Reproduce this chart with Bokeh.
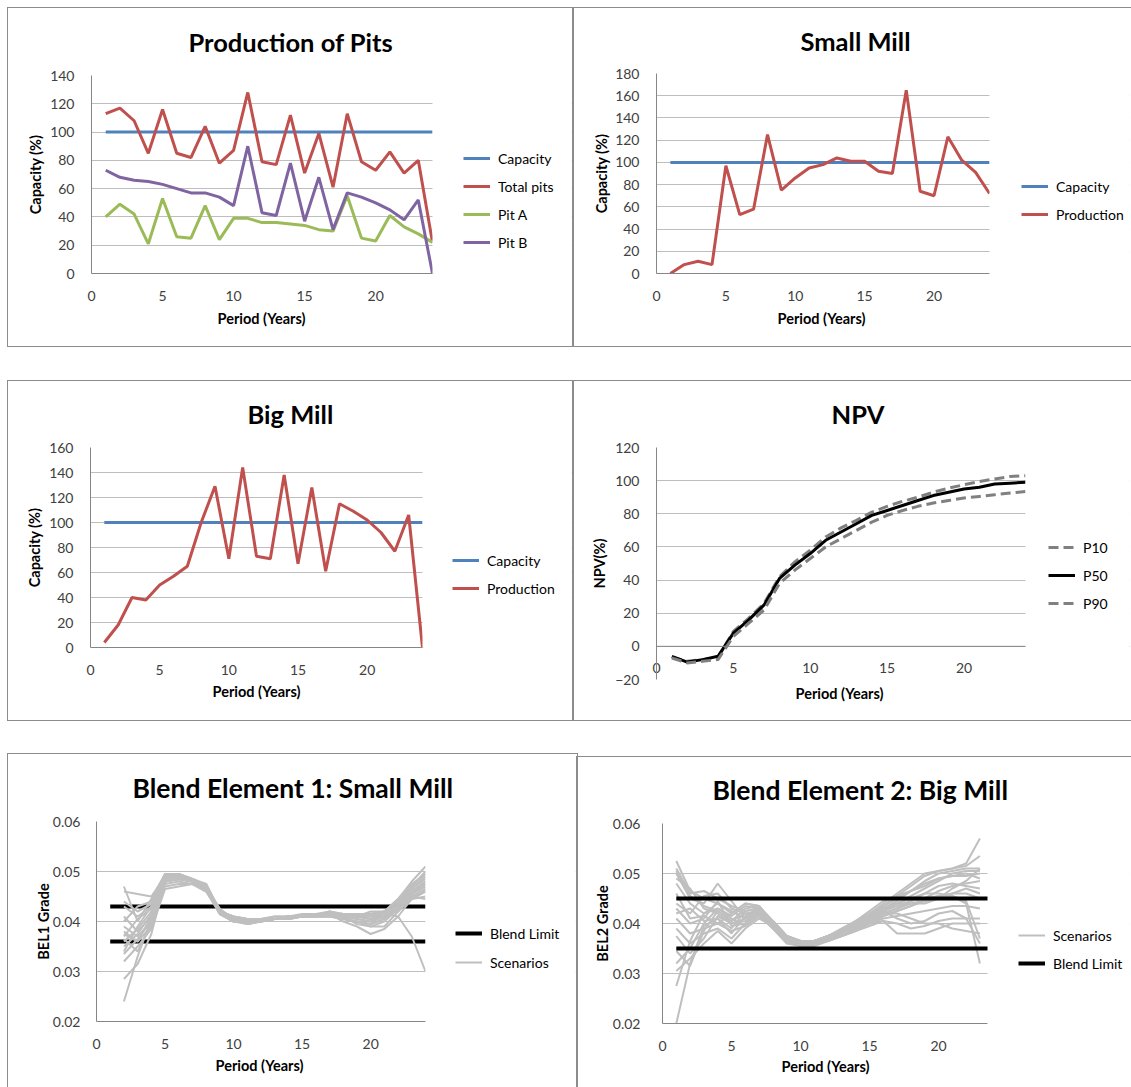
from bokeh.plotting import figure
from bokeh.layouts import row, column
from bokeh.models import (Range1d, FixedTicker, Legend, LegendItem, Spacer, Span, Title,
                          BoxAnnotation, PrintfTickFormatter)
from bokeh.embed import file_html
from bokeh.resources import INLINE

FONT = "Lato"

# ---------------- data ----------------
periods = [1, 2, 3, 4, 5, 6, 7, 8, 9, 10, 11, 12, 13, 14, 15, 16, 17, 18, 19, 20, 21, 22, 23, 24]
x_ticks = [0, 5, 10, 15, 20]

capacity = [100, 100, 100, 100, 100, 100, 100, 100, 100, 100, 100, 100,
            100, 100, 100, 100, 100, 100, 100, 100, 100, 100, 100, 100]

total_pits = [113, 117, 108, 85, 116, 85, 82, 104, 78, 87, 128, 79,
              77, 112, 71, 99, 61, 113, 79, 73, 86, 71, 80, 22]
pit_a = [40, 49, 42, 21, 53, 26, 25, 48, 24, 39, 39, 36,
         36, 35, 34, 31, 30, 55, 25, 23, 41, 33, 28, 22]
pit_b = [73, 68, 66, 65, 63, 60, 57, 57, 54, 48, 90, 43,
         41, 78, 37, 68, 31, 57, 54, 50, 45, 38, 52, 0]

small_mill = [0, 8, 11, 8, 97, 53, 58, 125, 75, 86, 95, 98,
              104, 101, 101, 92, 90, 165, 74, 70, 123, 102, 91, 72]
big_mill = [4, 18, 40, 38, 50, 57, 65, 100, 129, 71, 144, 73,
            71, 138, 67, 128, 61, 115, 109, 102, 92, 77, 106, 0]

npv_p10 = [-6.5, -9, -8, -6.5, 9, 17, 26, 42, 51, 58, 66, 71.5,
           76, 81, 84.5, 87.5, 90, 93, 95.5, 97.5, 99.5, 101, 102.5, 103]
npv_p50 = [-6, -9.5, -8, -6, 8, 16, 25, 41, 49, 56, 64, 69,
           74, 79, 82, 85, 88, 91, 93, 95, 96, 98, 98.5, 99]
npv_p90 = [-7, -10, -9, -8, 6, 14, 22, 38, 46, 53, 60, 65,
           70, 75, 79, 82, 84.5, 86.5, 88, 89.5, 90.5, 91.5, 92.5, 93.5]

bel1_periods = [2, 3, 4, 5, 6, 7, 8, 9, 10, 11, 12, 13, 14, 15, 16, 17, 18, 19, 20, 21, 22, 23, 24]
bel1_limit_x = [1, 24]
bel1_upper = [0.043, 0.043]
bel1_lower = [0.036, 0.036]
bel1_scenarios = [
    [0.0470, 0.0400, 0.0445, 0.0495, 0.0490, 0.0485, 0.0470, 0.0420, 0.0405, 0.0400, 0.0405, 0.0405, 0.0410, 0.0410, 0.0415, 0.0415, 0.0410, 0.0415, 0.0415, 0.0420, 0.0440, 0.0470, 0.0495],
    [0.0460, 0.0455, 0.0450, 0.0490, 0.0495, 0.0480, 0.0475, 0.0420, 0.0410, 0.0405, 0.0405, 0.0410, 0.0410, 0.0410, 0.0410, 0.0420, 0.0415, 0.0410, 0.0420, 0.0420, 0.0445, 0.0480, 0.0510],
    [0.0440, 0.0420, 0.0435, 0.0485, 0.0490, 0.0485, 0.0470, 0.0425, 0.0405, 0.0395, 0.0400, 0.0405, 0.0405, 0.0410, 0.0410, 0.0410, 0.0405, 0.0400, 0.0395, 0.0405, 0.0430, 0.0465, 0.0490],
    [0.0410, 0.0380, 0.0410, 0.0480, 0.0485, 0.0480, 0.0465, 0.0420, 0.0400, 0.0400, 0.0405, 0.0405, 0.0410, 0.0410, 0.0410, 0.0415, 0.0410, 0.0405, 0.0400, 0.0410, 0.0430, 0.0460, 0.0480],
    [0.0390, 0.0370, 0.0400, 0.0475, 0.0480, 0.0475, 0.0465, 0.0415, 0.0405, 0.0400, 0.0405, 0.0410, 0.0410, 0.0410, 0.0415, 0.0415, 0.0400, 0.0390, 0.0375, 0.0385, 0.0410, 0.0445, 0.0465],
    [0.0380, 0.0360, 0.0390, 0.0480, 0.0485, 0.0480, 0.0470, 0.0420, 0.0400, 0.0400, 0.0405, 0.0405, 0.0410, 0.0410, 0.0410, 0.0420, 0.0410, 0.0410, 0.0415, 0.0415, 0.0410, 0.0370, 0.0300],
    [0.0360, 0.0385, 0.0420, 0.0490, 0.0490, 0.0480, 0.0465, 0.0420, 0.0410, 0.0405, 0.0400, 0.0405, 0.0405, 0.0410, 0.0410, 0.0415, 0.0415, 0.0410, 0.0410, 0.0415, 0.0435, 0.0460, 0.0475],
    [0.0350, 0.0375, 0.0415, 0.0485, 0.0495, 0.0485, 0.0470, 0.0420, 0.0405, 0.0400, 0.0405, 0.0405, 0.0410, 0.0410, 0.0415, 0.0415, 0.0410, 0.0415, 0.0410, 0.0420, 0.0440, 0.0465, 0.0485],
    [0.0340, 0.0390, 0.0430, 0.0495, 0.0490, 0.0480, 0.0470, 0.0425, 0.0405, 0.0405, 0.0405, 0.0405, 0.0410, 0.0410, 0.0410, 0.0415, 0.0410, 0.0410, 0.0405, 0.0415, 0.0435, 0.0455, 0.0470],
    [0.0335, 0.0365, 0.0400, 0.0470, 0.0475, 0.0475, 0.0460, 0.0415, 0.0400, 0.0400, 0.0405, 0.0405, 0.0405, 0.0410, 0.0410, 0.0410, 0.0405, 0.0400, 0.0390, 0.0400, 0.0425, 0.0445, 0.0450],
    [0.0320, 0.0350, 0.0385, 0.0465, 0.0470, 0.0475, 0.0460, 0.0420, 0.0405, 0.0400, 0.0400, 0.0405, 0.0410, 0.0410, 0.0410, 0.0410, 0.0410, 0.0410, 0.0415, 0.0415, 0.0420, 0.0445, 0.0460],
    [0.0285, 0.0315, 0.0375, 0.0480, 0.0485, 0.0480, 0.0465, 0.0415, 0.0400, 0.0395, 0.0400, 0.0405, 0.0410, 0.0410, 0.0410, 0.0415, 0.0410, 0.0405, 0.0400, 0.0410, 0.0425, 0.0450, 0.0460],
    [0.0240, 0.0330, 0.0405, 0.0485, 0.0490, 0.0480, 0.0470, 0.0420, 0.0400, 0.0400, 0.0405, 0.0405, 0.0410, 0.0415, 0.0415, 0.0415, 0.0410, 0.0410, 0.0405, 0.0410, 0.0435, 0.0470, 0.0500],
    [0.0370, 0.0405, 0.0425, 0.0490, 0.0495, 0.0485, 0.0475, 0.0420, 0.0410, 0.0405, 0.0405, 0.0405, 0.0410, 0.0410, 0.0415, 0.0415, 0.0410, 0.0415, 0.0415, 0.0420, 0.0445, 0.0475, 0.0495],
    [0.0400, 0.0430, 0.0440, 0.0495, 0.0495, 0.0485, 0.0470, 0.0420, 0.0405, 0.0400, 0.0405, 0.0405, 0.0410, 0.0410, 0.0410, 0.0415, 0.0405, 0.0400, 0.0395, 0.0405, 0.0425, 0.0450, 0.0445],
    [0.0375, 0.0360, 0.0410, 0.0480, 0.0485, 0.0480, 0.0465, 0.0420, 0.0405, 0.0395, 0.0400, 0.0405, 0.0405, 0.0410, 0.0410, 0.0410, 0.0410, 0.0410, 0.0405, 0.0410, 0.0430, 0.0455, 0.0475],
    [0.0430, 0.0410, 0.0430, 0.0485, 0.0490, 0.0485, 0.0470, 0.0420, 0.0405, 0.0400, 0.0405, 0.0405, 0.0410, 0.0410, 0.0415, 0.0420, 0.0415, 0.0415, 0.0415, 0.0420, 0.0440, 0.0460, 0.0480],
    [0.0365, 0.0340, 0.0395, 0.0480, 0.0485, 0.0480, 0.0470, 0.0415, 0.0400, 0.0400, 0.0405, 0.0405, 0.0410, 0.0410, 0.0410, 0.0415, 0.0410, 0.0395, 0.0390, 0.0390, 0.0420, 0.0450, 0.0465],
]

bel2_periods = [1, 2, 3, 4, 5, 6, 7, 8, 9, 10, 11, 12, 13, 14, 15, 16, 17, 18, 19, 20, 21, 22, 23]
bel2_limit_x = [1, 24]
bel2_upper = [0.045, 0.045]
bel2_lower = [0.035, 0.035]
bel2_scenarios = [
    [0.0525, 0.0465, 0.0450, 0.0440, 0.0420, 0.0440, 0.0435, 0.0405, 0.0375, 0.0365, 0.0365, 0.0375, 0.0385, 0.0400, 0.0420, 0.0440, 0.0460, 0.0480, 0.0500, 0.0505, 0.0510, 0.0520, 0.0570],
    [0.0510, 0.0460, 0.0465, 0.0450, 0.0435, 0.0425, 0.0430, 0.0400, 0.0370, 0.0360, 0.0365, 0.0370, 0.0380, 0.0395, 0.0415, 0.0435, 0.0455, 0.0475, 0.0495, 0.0505, 0.0510, 0.0515, 0.0535],
    [0.0500, 0.0450, 0.0440, 0.0480, 0.0445, 0.0410, 0.0425, 0.0400, 0.0375, 0.0365, 0.0360, 0.0370, 0.0385, 0.0400, 0.0415, 0.0430, 0.0445, 0.0465, 0.0485, 0.0500, 0.0505, 0.0510, 0.0510],
    [0.0490, 0.0470, 0.0430, 0.0420, 0.0400, 0.0405, 0.0420, 0.0395, 0.0370, 0.0360, 0.0360, 0.0370, 0.0380, 0.0395, 0.0410, 0.0425, 0.0440, 0.0455, 0.0470, 0.0485, 0.0500, 0.0505, 0.0505],
    [0.0480, 0.0440, 0.0420, 0.0430, 0.0415, 0.0435, 0.0430, 0.0400, 0.0370, 0.0355, 0.0360, 0.0375, 0.0385, 0.0405, 0.0425, 0.0445, 0.0455, 0.0465, 0.0475, 0.0490, 0.0495, 0.0500, 0.0490],
    [0.0440, 0.0420, 0.0455, 0.0460, 0.0430, 0.0420, 0.0425, 0.0390, 0.0365, 0.0360, 0.0365, 0.0370, 0.0380, 0.0390, 0.0405, 0.0420, 0.0430, 0.0445, 0.0460, 0.0475, 0.0480, 0.0475, 0.0470],
    [0.0430, 0.0400, 0.0410, 0.0445, 0.0395, 0.0400, 0.0420, 0.0405, 0.0375, 0.0360, 0.0365, 0.0375, 0.0385, 0.0395, 0.0405, 0.0415, 0.0425, 0.0435, 0.0445, 0.0455, 0.0460, 0.0460, 0.0450],
    [0.0420, 0.0430, 0.0405, 0.0410, 0.0380, 0.0415, 0.0430, 0.0400, 0.0370, 0.0365, 0.0360, 0.0365, 0.0375, 0.0390, 0.0400, 0.0410, 0.0415, 0.0420, 0.0425, 0.0430, 0.0435, 0.0435, 0.0430],
    [0.0410, 0.0380, 0.0390, 0.0400, 0.0420, 0.0440, 0.0435, 0.0395, 0.0365, 0.0355, 0.0355, 0.0365, 0.0375, 0.0385, 0.0395, 0.0405, 0.0400, 0.0390, 0.0395, 0.0405, 0.0410, 0.0410, 0.0410],
    [0.0390, 0.0360, 0.0380, 0.0390, 0.0370, 0.0400, 0.0420, 0.0400, 0.0370, 0.0360, 0.0365, 0.0370, 0.0380, 0.0390, 0.0400, 0.0405, 0.0380, 0.0380, 0.0380, 0.0390, 0.0400, 0.0400, 0.0400],
    [0.0375, 0.0340, 0.0370, 0.0415, 0.0400, 0.0410, 0.0425, 0.0405, 0.0375, 0.0365, 0.0360, 0.0370, 0.0380, 0.0395, 0.0410, 0.0420, 0.0420, 0.0410, 0.0400, 0.0400, 0.0390, 0.0385, 0.0380],
    [0.0345, 0.0315, 0.0385, 0.0425, 0.0405, 0.0430, 0.0435, 0.0400, 0.0370, 0.0360, 0.0360, 0.0375, 0.0385, 0.0400, 0.0415, 0.0430, 0.0440, 0.0450, 0.0460, 0.0460, 0.0455, 0.0445, 0.0370],
    [0.0320, 0.0350, 0.0400, 0.0430, 0.0410, 0.0395, 0.0415, 0.0390, 0.0365, 0.0355, 0.0360, 0.0370, 0.0380, 0.0395, 0.0410, 0.0425, 0.0435, 0.0445, 0.0450, 0.0455, 0.0455, 0.0440, 0.0320],
    [0.0305, 0.0330, 0.0360, 0.0385, 0.0360, 0.0390, 0.0410, 0.0395, 0.0370, 0.0360, 0.0365, 0.0375, 0.0390, 0.0405, 0.0420, 0.0435, 0.0450, 0.0465, 0.0480, 0.0490, 0.0495, 0.0495, 0.0500],
    [0.0275, 0.0365, 0.0420, 0.0440, 0.0425, 0.0410, 0.0425, 0.0405, 0.0375, 0.0365, 0.0365, 0.0370, 0.0380, 0.0395, 0.0410, 0.0420, 0.0430, 0.0440, 0.0445, 0.0450, 0.0470, 0.0485, 0.0510],
    [0.0200, 0.0320, 0.0395, 0.0410, 0.0390, 0.0425, 0.0430, 0.0400, 0.0365, 0.0355, 0.0365, 0.0375, 0.0385, 0.0400, 0.0415, 0.0430, 0.0440, 0.0440, 0.0440, 0.0450, 0.0460, 0.0470, 0.0460],
    [0.0505, 0.0455, 0.0435, 0.0425, 0.0405, 0.0420, 0.0420, 0.0390, 0.0360, 0.0355, 0.0360, 0.0370, 0.0375, 0.0385, 0.0400, 0.0415, 0.0425, 0.0435, 0.0450, 0.0465, 0.0475, 0.0480, 0.0485],
    [0.0460, 0.0410, 0.0415, 0.0400, 0.0385, 0.0395, 0.0415, 0.0395, 0.0370, 0.0365, 0.0365, 0.0375, 0.0385, 0.0400, 0.0415, 0.0425, 0.0410, 0.0400, 0.0405, 0.0420, 0.0425, 0.0410, 0.0360],
]

# ---------------- style ----------------
BLUE = "#4F81BD"
RED = "#C0504D"
GREEN = "#9BBB59"
PURPLE = "#8064A2"
GRID = "#BEBEBE"
AXIS = "#868686"
SCEN = "#BFBFBF"
BORDER = "#8C8C8C"
FULL_BOX = ("-1px -1px 0 0 %s, 1px -1px 0 0 %s, -1px 1px 0 0 %s, 1px 1px 0 0 %s"
            % (BORDER, BORDER, BORDER, BORDER))
TICK_FS = "14px"
AXT_FS = "14.5px"


def make_panel(w, h, left, top, bottom, plot_w, xmax, yrange, yticks, ylabel,
               tick_standoff=11, label_standoff=3, yfmt=None):
    """Frame spans the plot area plus the legend area; the plot area is [0, xmax]."""
    frame_w = w - left - 2
    x_end = xmax * frame_w / plot_w
    p = figure(width=w, height=h, x_range=Range1d(0, x_end), y_range=Range1d(*yrange),
               output_backend="svg", toolbar_location=None,
               min_border_left=left, min_border_right=2,
               min_border_top=top, min_border_bottom=bottom,
               border_fill_color=None, background_fill_color="white",
               outline_line_color=None)
    p.styles = {"box-shadow": FULL_BOX}
    p.xaxis.ticker = FixedTicker(ticks=x_ticks)
    p.xaxis.bounds = (0, xmax)
    p.yaxis.ticker = FixedTicker(ticks=yticks)
    if yfmt is not None:
        p.yaxis.formatter = yfmt
    for ax in p.xaxis + p.yaxis:
        ax.axis_line_color = AXIS
        ax.axis_line_width = 1
        ax.major_tick_line_color = None
        ax.minor_tick_line_color = None
        ax.major_label_text_font = FONT
        ax.major_label_text_font_size = TICK_FS
        ax.major_label_text_color = "#404040"
        ax.axis_label_text_font = FONT
        ax.axis_label_text_font_style = "bold"
        ax.axis_label_text_font_size = AXT_FS
        ax.axis_label_text_color = "#000000"
    p.xaxis.major_label_standoff = 11
    p.yaxis.major_label_standoff = tick_standoff
    p.yaxis.axis_label = ylabel
    p.yaxis.axis_label_standoff = label_standoff
    p.xgrid.visible = False
    p.ygrid.grid_line_color = GRID
    p.ygrid.grid_line_width = 1
    return p


def mask_outside(p, xmax):
    # white mask right of the plot area (the legend area of the chart)
    p.add_layout(BoxAnnotation(left=xmax, fill_color="white", fill_alpha=1.0,
                               line_alpha=0))


def add_title(p, text, offset, size="25.5px", standoff=34):
    p.add_layout(Title(text=text, align="left", offset=offset, vertical_align="top",
                       standoff=standoff, text_font=FONT, text_font_style="bold",
                       text_font_size=size, text_color="#000000"), "above")


def add_xtitle(p, offset, standoff=12, text="Period (Years)"):
    p.add_layout(Title(text=text, align="left", offset=offset, vertical_align="top",
                       standoff=standoff, text_font=FONT, text_font_style="bold",
                       text_font_size=AXT_FS, text_color="#000000"), "below")


def add_legend(p, items, x, y, spacing=8):
    lg = Legend(items=items, location=(x, y), glyph_width=27, glyph_height=20,
                label_standoff=8, spacing=spacing, padding=0, margin=0,
                border_line_color=None, background_fill_alpha=0,
                label_text_font=FONT, label_text_font_size="14px",
                label_text_color="#000000", label_height=20)
    p.add_layout(lg)


# ---------------- panel 1: Production of Pits ----------------
p1 = make_panel(565, 338, 83, 67, 73, 341, 24, (0, 140),
                [0, 20, 40, 60, 80, 100, 120, 140], "Capacity (%)")
r_cap = p1.line(periods, capacity, line_color=BLUE, line_width=3)
r_tot = p1.line(periods, total_pits, line_color=RED, line_width=3)
r_a = p1.line(periods, pit_a, line_color=GREEN, line_width=3)
r_b = p1.line(periods, pit_b, line_color=PURPLE, line_width=3)
mask_outside(p1, 24)
add_title(p1, "Production of Pits", 97, standoff=34)
add_xtitle(p1, 126, standoff=12)
add_legend(p1, [LegendItem(label="Capacity", renderers=[r_cap]),
                LegendItem(label="Total pits", renderers=[r_tot]),
                LegendItem(label="Pit A", renderers=[r_a]),
                LegendItem(label="Pit B", renderers=[r_b])], 372, 21)

# ---------------- panel 2: Small Mill ----------------
p2 = make_panel(558, 338, 83, 65, 73, 333, 24, (0, 180),
                [0, 20, 40, 60, 80, 100, 120, 140, 160, 180], "Capacity (%)",
                label_standoff=2)
r2c = p2.line(periods, capacity, line_color=BLUE, line_width=3)
r2p = p2.line(periods, small_mill, line_color=RED, line_width=3)
mask_outside(p2, 24)
add_title(p2, "Small Mill", 144, standoff=32)
add_xtitle(p2, 121, standoff=12)
add_legend(p2, [LegendItem(label="Capacity", renderers=[r2c]),
                LegendItem(label="Production", renderers=[r2p])], 365, 49)

# ---------------- panel 3: Big Mill ----------------
p3 = make_panel(565, 339, 82, 66, 73, 332, 24, (0, 160),
                [0, 20, 40, 60, 80, 100, 120, 140, 160], "Capacity (%)")
r3c = p3.line(periods, capacity, line_color=BLUE, line_width=3)
r3p = p3.line(periods, big_mill, line_color=RED, line_width=3)
mask_outside(p3, 24)
add_title(p3, "Big Mill", 157, standoff=33)
add_xtitle(p3, 122, standoff=10)
add_legend(p3, [LegendItem(label="Capacity", renderers=[r3c]),
                LegendItem(label="Production", renderers=[r3p])], 362, 49)

# ---------------- panel 4: NPV ----------------
p4 = make_panel(558, 339, 83, 66, 41, 369, 24, (-20, 120),
                [-20, 0, 20, 40, 60, 80, 100, 120], "NPV(%)", label_standoff=4)
p4.xaxis.axis_line_color = None
p4.xaxis.major_label_standoff = -23
p4.add_layout(Span(location=0, dimension="width", line_color=AXIS, line_width=1))
r4a = p4.line(periods, npv_p10, line_color="#808080", line_width=3, line_dash="10 5")
r4b = p4.line(periods, npv_p50, line_color="#000000", line_width=3)
r4c = p4.line(periods, npv_p90, line_color="#808080", line_width=3, line_dash="10 5")
mask_outside(p4, 24)
add_title(p4, "NPV", 175, standoff=33)
add_xtitle(p4, 139, standoff=10)
add_legend(p4, [LegendItem(label="P10", renderers=[r4a]),
                LegendItem(label="P50", renderers=[r4b]),
                LegendItem(label="P90", renderers=[r4c])], 392, 66)

# ---------------- panel 5: Blend Element 1 ----------------
p5 = make_panel(569, 333, 88, 67, 66, 329, 24, (0.02, 0.06),
                [0.02, 0.03, 0.04, 0.05, 0.06], "BEL1 Grade",
                tick_standoff=10, label_standoff=-2, yfmt=PrintfTickFormatter(format="%.2f"))
r5u = p5.line(bel1_limit_x, bel1_upper, line_color="#000000", line_width=4)
p5.line(bel1_limit_x, bel1_lower, line_color="#000000", line_width=4)
r5s = p5.multi_line([bel1_periods] * len(bel1_scenarios), bel1_scenarios,
                    line_color=SCEN, line_width=2)
mask_outside(p5, 24)
add_title(p5, "Blend Element 1: Small Mill", 36, size="26.5px", standoff=32)
add_xtitle(p5, 119, standoff=10)
add_legend(p5, [LegendItem(label="Blend Limit", renderers=[r5u]),
                LegendItem(label="Scenarios", renderers=[r5s])], 359, 49, spacing=9)

# ---------------- panel 6: Blend Element 2 ----------------
p6 = make_panel(554, 330, 85, 66, 64, 325, 23.55, (0.02, 0.06),
                [0.02, 0.03, 0.04, 0.05, 0.06], "BEL2 Grade",
                tick_standoff=16, label_standoff=-1, yfmt=PrintfTickFormatter(format="%.2f"))
r6s = p6.multi_line([bel2_periods] * len(bel2_scenarios), bel2_scenarios,
                    line_color=SCEN, line_width=2)
r6u = p6.line(bel2_limit_x, bel2_upper, line_color="#000000", line_width=4)
p6.line(bel2_limit_x, bel2_lower, line_color="#000000", line_width=4)
mask_outside(p6, 23.55)
add_title(p6, "Blend Element 2: Big Mill", 50, size="26.5px", standoff=31)
add_xtitle(p6, 119, standoff=8)
add_legend(p6, [LegendItem(label="Scenarios", renderers=[r6s]),
                LegendItem(label="Blend Limit", renderers=[r6u])], 356, 50)


def boxed(p, top=0):
    return column(Spacer(height=top), p)


grid = column(row(boxed(p1), boxed(p2)), Spacer(height=35),
              row(boxed(p3), boxed(p4)), Spacer(height=34),
              row(boxed(p5), boxed(p6, 3)))
layout = row(Spacer(width=8), column(Spacer(height=8), grid))

open("out.html", "w").write(file_html(layout, INLINE))
